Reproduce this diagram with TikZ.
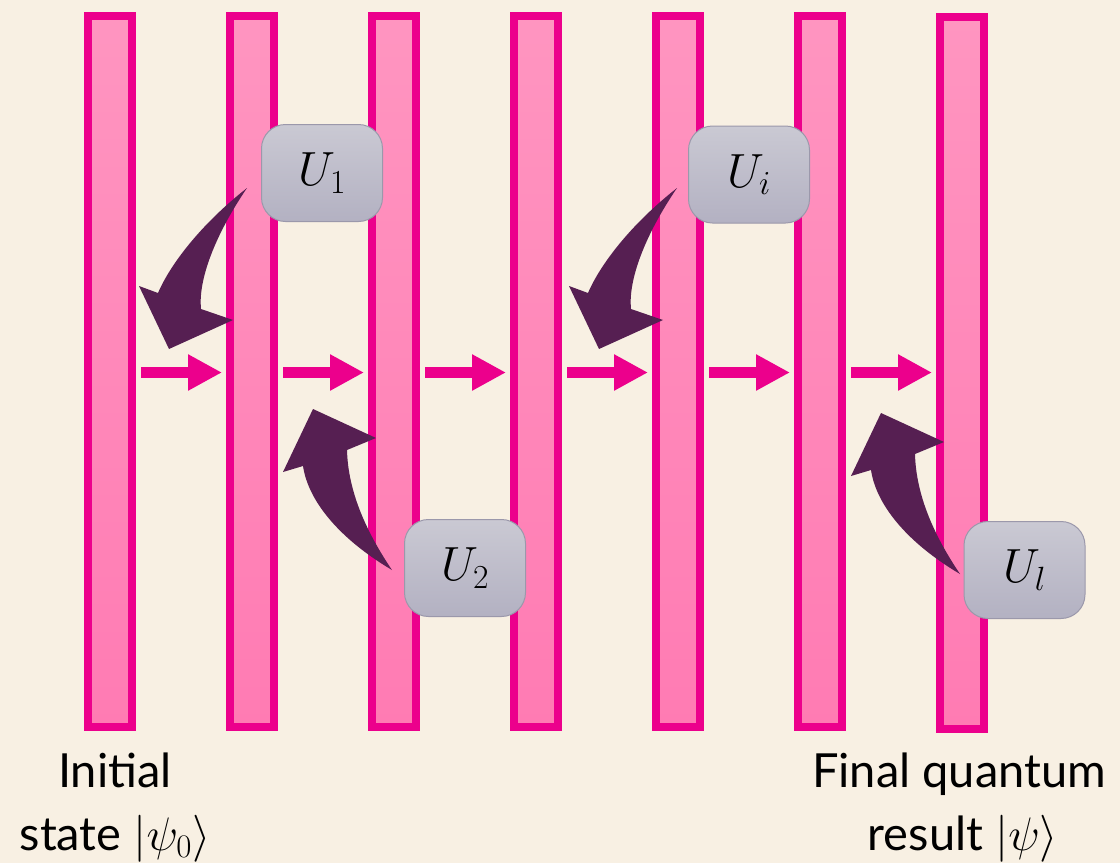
\RequirePackage{fix-cm}
\documentclass[tikz,border=0pt]{standalone}
\usepackage{amsmath}
\usepackage{fontspec}
\setmainfont{Lato}
\usetikzlibrary{arrows.meta}
\definecolor{bg}{HTML}{F8F0E3}
\definecolor{barBorder}{HTML}{EC008C}
\definecolor{barTop}{HTML}{FF95C0}
\definecolor{barBot}{HTML}{FF7BB3}
\definecolor{purp}{HTML}{561F52}
\definecolor{boxTop}{HTML}{CAC9D3}
\definecolor{boxBot}{HTML}{B3B1C2}
\definecolor{boxBorder}{HTML}{9B98AB}
\tikzset{
  bar/.style={draw=barBorder, line width=8pt, top color=barTop, bottom color=barBot,
    minimum width=44pt, minimum height=711pt, inner sep=0pt},
  gatebox/.style={draw=boxBorder, line width=1pt, top color=boxTop, bottom color=boxBot,
    rounded corners=24pt, minimum width=121pt, minimum height=97pt, inner sep=0pt,
    font=\fontsize{48}{54}\selectfont},
  harrow/.style={draw=barBorder, line width=11pt,
    -{Triangle[length=34pt,width=34pt]}, shorten <=5pt, shorten >=4pt},
  curved/.style={fill=purp, draw=none},
  label/.style={anchor=base, inner sep=0pt, font=\fontsize{47}{54}\selectfont}
}
\begin{document}
\begin{tikzpicture}[x=1pt,y=-1pt]
\fill[bg] (0,0) rectangle (1120,863);
\useasboundingbox (0,0) rectangle (1120,863);
% bars
\node[bar] (b1) at (110,371.5) {};
\node[bar] (b2) at (252,371.5) {};
\node[bar] (b3) at (394,371.5) {};
\node[bar] (b4) at (536,371.5) {};
\node[bar] (b5) at (678,371.5) {};
\node[bar] (b6) at (820,371.5) {};
\node[bar, minimum height=712pt] (b7) at (962,373) {};
% horizontal arrows
\draw[harrow] ([yshift=-1pt]b1.east) -- ([yshift=-1pt]b1.east -| b2.west);
\draw[harrow] ([yshift=-1pt]b2.east) -- ([yshift=-1pt]b2.east -| b3.west);
\draw[harrow] ([yshift=-1pt]b3.east) -- ([yshift=-1pt]b3.east -| b4.west);
\draw[harrow] ([yshift=-1pt]b4.east) -- ([yshift=-1pt]b4.east -| b5.west);
\draw[harrow] ([yshift=-1pt]b5.east) -- ([yshift=-1pt]b5.east -| b6.west);
\draw[harrow] ([yshift=-1pt]b6.east) -- ([yshift=-1pt]b6.east -| b7.west);
% curved arrows (downward-left type)
\foreach \sx/\sy in {0/0, 430/0} {
  \path[curved, shift={(\sx,\sy)}]
    (247,188) .. controls (200,225) and (170,265) .. (158,293)
    -- (139,286) -- (169,349) -- (233,320) -- (201,309)
    .. controls (198,280) and (215,235) .. (247,188) -- cycle;
}
% curved arrows (upward-left type)
\foreach \sx/\sy in {0/0, 568/4} {
  \path[curved, shift={(\sx,\sy)}]
    (392,570) .. controls (338,538) and (308,500) .. (303,466)
    -- (283,472) -- (313,409) -- (376,438) -- (347,450)
    .. controls (348,490) and (365,530) .. (392,570) -- cycle;
}
% gate boxes
\node[gatebox] (u1) at (322,173) {$U_1$};
\node[gatebox] (u2) at (465,568) {$U_2$};
\node[gatebox] (ui) at (749,174.5) {$U_i$};
\node[gatebox] (ul) at (1024.5,570) {$U_l$};
% labels
\node[label] (init1) at (115,787) {Initial};
\node[label] (init2) at (115,850) {state $\lvert\psi_0\rangle$};
\node[label] (fin1) at (959,787) {Final quantum};
\node[label] (fin2) at (963,850) {result $\lvert\psi\rangle$};
\end{tikzpicture}
\end{document}
